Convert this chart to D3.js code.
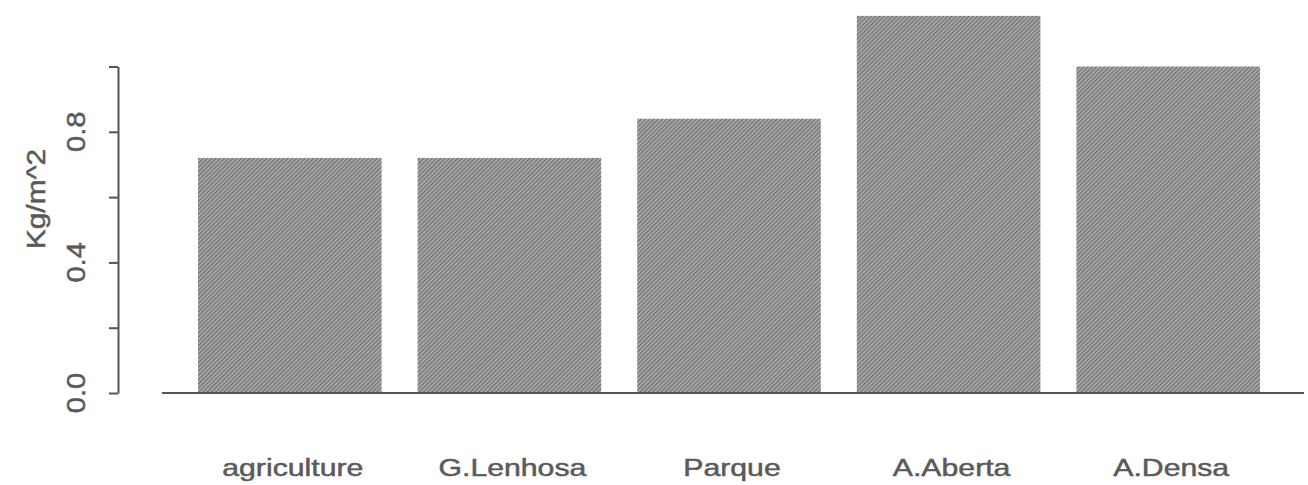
<!DOCTYPE html>
<html>
<head>
<meta charset="utf-8">
<script src="https://cdn.jsdelivr.net/npm/d3@7"></script>
<style>
  html, body { margin: 0; padding: 0; background: #ffffff; }
  svg { display: block; }
  text { font-family: "Liberation Sans", Arial, Helvetica, sans-serif; fill: #5a5a5a; stroke: #5a5a5a; stroke-width: 0.5; }
</style>
</head>
<body>
<svg id="chart" width="1308" height="485"></svg>
<script>
// ---- data ----
const categories = ["agriculture", "G.Lenhosa", "Parque", "A.Aberta", "A.Densa"];
const values = [0.72, 0.72, 0.84, 1.155, 1.0];
const tickValues = [0, 0.2, 0.4, 0.6, 0.8, 1.0];
const tickLabels = ["0.0", "", "0.4", "", "0.8", ""];
const yTitle = "Kg/m^2";

// ---- layout ----
const svg = d3.select("#chart");

const x = d3.scaleBand()
  .domain(categories)
  .range([198, 1260])
  .paddingInner(0.164)
  .paddingOuter(0);

const y = d3.scaleLinear()
  .domain([0, 1])
  .range([393, 66.5]);

// hatch pattern for the bars
const defs = svg.append("defs");
const pat = defs.append("pattern")
  .attr("id", "hatch")
  .attr("patternUnits", "userSpaceOnUse")
  .attr("width", 3)
  .attr("height", 3)
  .attr("patternTransform", "rotate(45)");
pat.append("rect").attr("width", 3).attr("height", 3).attr("fill", "#b2b2b2");
pat.append("rect").attr("width", 1.4).attr("height", 3).attr("fill", "#6e6e6e");

// bars
svg.append("g")
  .selectAll("rect")
  .data(categories)
  .join("rect")
  .attr("x", d => x(d))
  .attr("width", x.bandwidth())
  .attr("y", (d, i) => y(values[i]))
  .attr("height", (d, i) => y(0) - y(values[i]))
  .attr("fill", "url(#hatch)");

// baseline
svg.append("line")
  .attr("x1", 162).attr("x2", 1304)
  .attr("y1", y(0)).attr("y2", y(0))
  .attr("stroke", "#555").attr("stroke-width", 2);

// y axis
const yAxis = d3.axisLeft(y)
  .tickValues(tickValues)
  .tickSize(9)
  .tickSizeOuter(0)
  .tickFormat("");
const gy = svg.append("g")
  .attr("transform", "translate(118,0)")
  .call(yAxis);
gy.select(".domain").attr("stroke", "#555").attr("stroke-width", 2);
gy.selectAll(".tick line").attr("stroke", "#555").attr("stroke-width", 2);

// rotated tick labels
svg.append("g")
  .selectAll("text")
  .data(tickValues)
  .join("text")
  .attr("transform", d => `translate(85,${y(d)}) rotate(-90) scale(1.12,1)`)
  .attr("text-anchor", "middle")
  .attr("font-size", 26)
  .text((d, i) => tickLabels[i]);

// y title
svg.append("text")
  .attr("transform", `translate(45,199) rotate(-90) scale(1.15,1)`)
  .attr("text-anchor", "middle")
  .attr("font-size", 26)
  .text(yTitle);

// category labels
svg.append("g")
  .selectAll("text")
  .data(categories)
  .join("text")
  .attr("transform", d => `translate(${x(d) + x.bandwidth() / 2 + 3},476) scale(1.26,1)`)
  .attr("text-anchor", "middle")
  .attr("font-size", 24)
  .text(d => d);
</script>
</body>
</html>
